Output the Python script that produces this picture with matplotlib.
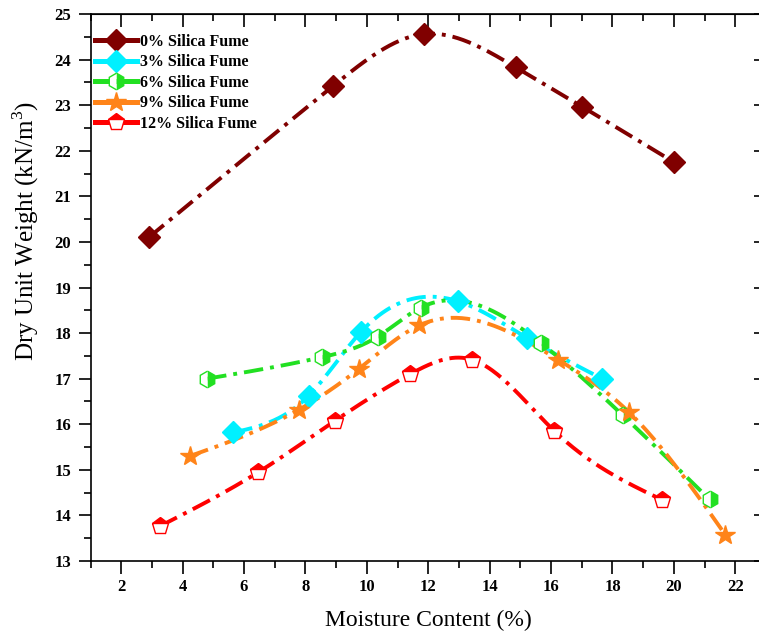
import numpy as np
import matplotlib
matplotlib.use("Agg")
import matplotlib.pyplot as plt
from matplotlib.lines import Line2D
from matplotlib.ticker import MultipleLocator

plt.rcParams["font.family"] = ["Liberation Serif", "DejaVu Serif"]
plt.rcParams["mathtext.fontset"] = "custom"
plt.rcParams["mathtext.rm"] = "Liberation Serif"

# moisture content (%) and dry unit weight (kN/m3) for each silica fume dosage
labels = ["0% Silica Fume", "3% Silica Fume", "6% Silica Fume",
          "9% Silica Fume", "12% Silica Fume"]
mc_0 = [2.9, 8.9, 11.85, 14.85, 17.0, 20.0]
duw_0 = [20.1, 23.42, 24.56, 23.83, 22.97, 21.75]
mc_3 = [5.65, 8.1, 9.8, 12.96, 15.2, 17.66]
duw_3 = [15.82, 16.62, 18.02, 18.7, 17.9, 17.0]
mc_6 = [4.8, 8.53, 10.35, 11.76, 15.67, 18.33, 21.16]
duw_6 = [17.0, 17.47, 17.92, 18.56, 17.78, 16.2, 14.35]
mc_9 = [4.23, 7.79, 9.75, 11.71, 16.22, 18.53, 21.67]
duw_9 = [15.3, 16.32, 17.22, 18.17, 17.42, 16.27, 13.58]
mc_12 = [3.25, 6.47, 8.97, 11.41, 13.41, 16.11, 19.62]
duw_12 = [13.76, 14.95, 16.08, 17.1, 17.42, 15.85, 14.34]

series = [(mc_0, duw_0), (mc_3, duw_3), (mc_6, duw_6), (mc_9, duw_9), (mc_12, duw_12)]
colors = ["#800000", "#00F0FF", "#22E022", "#FF8419", "#FF0000"]
markers = [dict(marker="D", ms=11),
           dict(marker="D", ms=11),
           dict(marker="h", ms=12, fillstyle="right", markerfacecoloralt="white"),
           dict(marker="*", ms=14.5),
           dict(marker="p", ms=12.5, fillstyle="top", markerfacecoloralt="white")]


def natural_spline(x, y, n=300):
    x = np.asarray(x, float); y = np.asarray(y, float)
    h = np.diff(x)
    k = len(x)
    A = np.zeros((k, k)); b = np.zeros(k)
    A[0, 0] = A[-1, -1] = 1.0
    for i in range(1, k - 1):
        A[i, i - 1] = h[i - 1]
        A[i, i] = 2 * (h[i - 1] + h[i])
        A[i, i + 1] = h[i]
        b[i] = 6 * ((y[i + 1] - y[i]) / h[i] - (y[i] - y[i - 1]) / h[i - 1])
    M = np.linalg.solve(A, b)
    xs = np.linspace(x[0], x[-1], n)
    j = np.clip(np.searchsorted(x, xs) - 1, 0, k - 2)
    t0 = x[j + 1] - xs; t1 = xs - x[j]
    ys = (M[j] * t0**3 + M[j + 1] * t1**3) / (6 * h[j]) \
        + (y[j] / h[j] - M[j] * h[j] / 6) * t0 \
        + (y[j + 1] / h[j] - M[j + 1] * h[j] / 6) * t1
    return xs, ys


W, H = 759, 637
fig = plt.figure(figsize=(W / 100, H / 100), dpi=100)
ax = fig.add_axes([90.5 / W, 1 - 561 / H, (766 - 90.5) / W, (561 - 14) / H])

handles = []
for (x, y), c, mk, lab in zip(series, colors, markers, labels):
    xs, ys = natural_spline(x, y)
    ax.plot(xs, ys, color=c, lw=2.8, dashes=(5, 1.8, 1, 1.8), zorder=2)
    ax.plot(x, y, ls="none", color=c, mec=c, mfc=c, mew=1.0, zorder=3, **mk)
    handles.append(Line2D([], [], color=c, lw=3.6, mec=c, mfc=c, mew=1.0, **mk))

ax.set_xlim(1, 23)
ax.set_ylim(13, 25)
ax.xaxis.set_major_locator(MultipleLocator(2))
ax.xaxis.set_minor_locator(MultipleLocator(1))
ax.yaxis.set_major_locator(MultipleLocator(1))
ax.yaxis.set_minor_locator(MultipleLocator(0.5))
ax.tick_params(which="major", direction="out", length=9, width=1.2)
ax.tick_params(which="minor", direction="out", length=5, width=1.2)
ax.tick_params(axis="x", which="major", pad=4)
ax.tick_params(axis="y", which="major", pad=5)
for lbl in ax.get_xticklabels() + ax.get_yticklabels():
    lbl.set_fontweight("bold")
    lbl.set_fontsize(12)
for sp in ax.spines.values():
    sp.set_linewidth(1.2)

# mirrored inward ticks on top and right
top = ax.secondary_xaxis("top")
top.xaxis.set_major_locator(MultipleLocator(2))
top.xaxis.set_minor_locator(MultipleLocator(1))
top.tick_params(which="major", direction="in", length=9, width=1.2, labeltop=False)
top.tick_params(which="minor", direction="in", length=5, width=1.2)
right = ax.secondary_yaxis("right")
right.yaxis.set_major_locator(MultipleLocator(1))
right.yaxis.set_minor_locator(MultipleLocator(0.5))
right.tick_params(which="major", direction="in", length=9, width=1.2, labelright=False)
right.tick_params(which="minor", direction="in", length=5, width=1.2)

ax.set_xlabel("Moisture Content (%)", fontsize=17)
ax.xaxis.set_label_coords((428 - 90.5) / (766 - 90.5), -(620 - 561) / 547)
ax.set_ylabel("Dry Unit Weight (kN/m$^3$)", fontsize=18)
ax.yaxis.set_label_coords((26 - 90.5) / (766 - 90.5), (561 - 231) / 547)
ax.xaxis.label.set_va("center")
ax.yaxis.label.set_va("center")

leg = ax.legend(handles, labels, loc="upper left",
                bbox_to_anchor=(95 / W, 1 - 34 / H), bbox_transform=fig.transFigure,
                frameon=False, borderpad=0, borderaxespad=0, handlelength=2.6,
                handletextpad=0.2, labelspacing=0.28,
                prop=dict(family="Liberation Serif", weight="bold", size=11.5))

fig.savefig("out.png", dpi=100)
